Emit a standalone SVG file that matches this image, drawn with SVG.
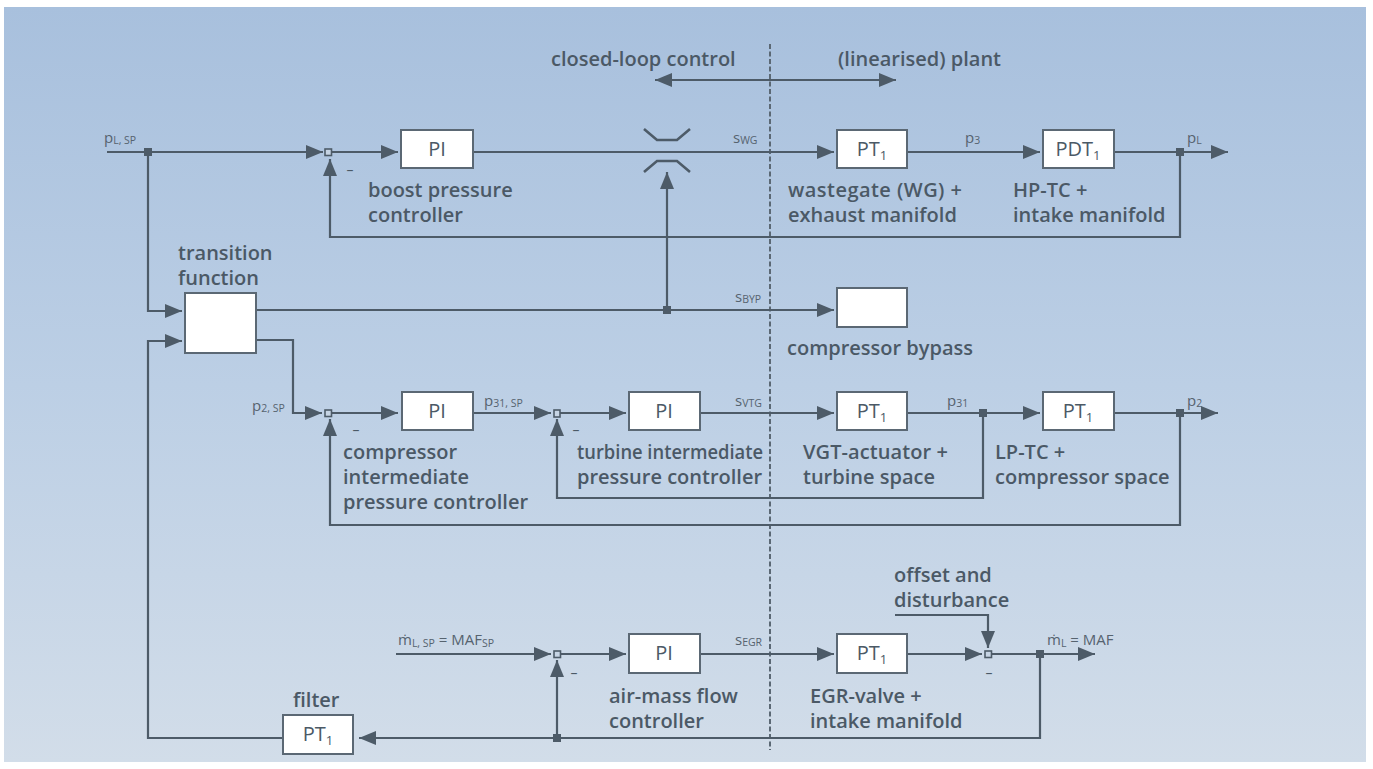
<svg xmlns="http://www.w3.org/2000/svg" width="1373" height="769" viewBox="0 0 1373 769">
<defs>
<linearGradient id="bg" x1="0" y1="0" x2="0" y2="1">
<stop offset="0" stop-color="#a8c0dd"/>
<stop offset="0.5" stop-color="#bccfe5"/>
<stop offset="1" stop-color="#d2dde9"/>
</linearGradient>
<marker id="arr" markerUnits="userSpaceOnUse" markerWidth="18" markerHeight="14" refX="17" refY="7" orient="auto-start-reverse" viewBox="0 0 18 14">
<path d="M0,0 L17,7 L0,14 z" fill="#4d5b68"/>
</marker>
<style>
.ln{fill:none;stroke:#4d5b68;stroke-width:2.2}
.ar{marker-end:url(#arr)}
.box{fill:#ffffff;stroke:#5b6874;stroke-width:2}
.lbl{font-family:"Open Sans","Liberation Sans",sans-serif;font-weight:600;font-size:20px;fill:#4b5966}
.bt{font-family:"Open Sans","Liberation Sans",sans-serif;font-weight:400;font-size:20px;fill:#4b5966;text-anchor:middle}
.sm{font-family:"Open Sans","Liberation Sans",sans-serif;font-weight:400;font-size:15px;fill:#56636f}
.sub{font-size:10.5px}
.sumn{fill:#c6d4e4;stroke:#4d5b68;stroke-width:1.6}
.jn{fill:#4d5b68}
.mn{font-family:"Open Sans","Liberation Sans",sans-serif;font-size:14px;fill:#4b5966;text-anchor:middle}
</style>
</defs>
<rect x="0" y="0" width="1373" height="769" fill="#ffffff"/>
<rect x="4" y="7" width="1362" height="755" fill="url(#bg)"/>

<g id="header">
<text class="lbl" x="551" y="66">closed-loop control</text>
<text class="lbl" x="838" y="66">(linearised) plant</text>
<path class="ln" d="M655,80 H896" marker-start="url(#arr)" marker-end="url(#arr)"/>
<path d="M770,44 V750" fill="none" stroke="#5b6874" stroke-width="2" stroke-dasharray="5 2.5"/>
</g>

<g id="connectors">
<path class="ln ar" d="M107,152 H323"/>
<path class="ln ar" d="M331,152 H398"/>
<path class="ln ar" d="M473,152 H834"/>
<path class="ln ar" d="M907,152 H1040"/>
<path class="ln ar" d="M1114,152 H1228"/>
<path class="ln ar" d="M1180,152 V237 H330 V159"/>
<path class="ln ar" d="M667,310 V172"/>
<path class="ln ar" d="M148,152 V311 H182"/>
<path class="ln ar" d="M283,738 H148 V341 H182"/>
<path class="ln ar" d="M256,310 H834"/>
<path class="ln ar" d="M256,340 H293 V413 H322"/>
<path class="ln ar" d="M331,413 H398"/>
<path class="ln ar" d="M473,413 H551"/>
<path class="ln ar" d="M560,413 H626"/>
<path class="ln ar" d="M700,413 H834"/>
<path class="ln ar" d="M907,413 H1040"/>
<path class="ln ar" d="M1114,413 H1218"/>
<path class="ln ar" d="M983,413 V498 H557 V419"/>
<path class="ln ar" d="M1180,413 V525 H330 V419"/>
<path class="ln ar" d="M396,654 H551"/>
<path class="ln ar" d="M560,654 H626"/>
<path class="ln ar" d="M700,654 H834"/>
<path class="ln ar" d="M907,654 H982"/>
<path class="ln ar" d="M895,615 H988 V648"/>
<path class="ln ar" d="M991,654 H1095"/>
<path class="ln ar" d="M1040,654 V738 H359"/>
<path class="ln ar" d="M557,738 V660"/>
</g>

<g id="switch">
<path d="M644,129 L657,140 L677,140 L690,129" fill="none" stroke="#4d5b68" stroke-width="2.6"/>
<path d="M644,172 L657,161 L677,161 L690,172" fill="none" stroke="#4d5b68" stroke-width="2.6"/>
</g>

<g id="nodes-points">
<rect class="sumn" x="325" y="149" width="6.5" height="6.5"/>
<rect class="sumn" x="325" y="410" width="6.5" height="6.5"/>
<rect class="sumn" x="554" y="410" width="6" height="7"/>
<rect class="sumn" x="554" y="651" width="6.5" height="6.5"/>
<rect class="sumn" x="985" y="651" width="6.5" height="6.5"/>
<rect class="jn" x="144" y="148" width="8" height="8"/>
<rect class="jn" x="1176" y="148" width="8" height="8"/>
<rect class="jn" x="663" y="306" width="8" height="8"/>
<rect class="jn" x="979" y="409" width="8" height="8"/>
<rect class="jn" x="1176" y="409" width="8" height="8"/>
<rect class="jn" x="1036" y="650" width="8" height="8"/>
<rect class="jn" x="553" y="734" width="8" height="8"/>
<text class="mn" x="350" y="175">–</text>
<text class="mn" x="356" y="435">–</text>
<text class="mn" x="576" y="435">–</text>
<text class="mn" x="574" y="678">–</text>
<text class="mn" x="989" y="678">–</text>
</g>

<g id="signals">
<text class="sm" x="104" y="143">p<tspan class="sub" dy="1">L, SP</tspan></text>
<text class="sm" x="733" y="143">s<tspan class="sub" dy="1">WG</tspan></text>
<text class="sm" x="965" y="143">p<tspan class="sub" dy="1">3</tspan></text>
<text class="sm" x="1187" y="143">p<tspan class="sub" dy="1">L</tspan></text>
<text class="sm" x="735" y="302">s<tspan class="sub" dy="1">BYP</tspan></text>
<text class="sm" x="252" y="411">p<tspan class="sub" dy="1">2, SP</tspan></text>
<text class="sm" x="484" y="406">p<tspan class="sub" dy="1">31, SP</tspan></text>
<text class="sm" x="735" y="406">s<tspan class="sub" dy="1">VTG</tspan></text>
<text class="sm" x="947" y="406">p<tspan class="sub" dy="1">31</tspan></text>
<text class="sm" x="1187" y="406">p<tspan class="sub" dy="1">2</tspan></text>
<text class="sm" x="398" y="645">ṁ<tspan class="sub" dy="2">L, SP</tspan><tspan dy="-2"> = MAF</tspan><tspan class="sub" dy="2">SP</tspan></text>
<text class="sm" x="735" y="645">s<tspan class="sub" dy="1">EGR</tspan></text>
<text class="sm" x="1047" y="645">ṁ<tspan class="sub" dy="2">L</tspan><tspan dy="-2"> = MAF</tspan></text>
</g>

<g id="boost-pi">
<rect class="box" x="401" y="130" width="72" height="38"/>
<text class="bt" x="437" y="156">PI</text>
<text class="lbl" x="368" y="197">boost pressure</text>
<text class="lbl" x="368" y="222">controller</text>
</g>
<g id="wastegate-pt1">
<rect class="box" x="837" y="130" width="70" height="38"/>
<text class="bt" x="872" y="156">PT<tspan font-size="13" dy="4">1</tspan></text>
<text class="lbl" x="788" y="197" textLength="174">wastegate (WG) +</text>
<text class="lbl" x="788" y="222">exhaust manifold</text>
</g>
<g id="hptc-pdt1">
<rect class="box" x="1043" y="130" width="71" height="38"/>
<text class="bt" x="1078" y="156">PDT<tspan font-size="13" dy="4">1</tspan></text>
<text class="lbl" x="1013" y="197">HP-TC +</text>
<text class="lbl" x="1013" y="222">intake manifold</text>
</g>
<g id="transition">
<rect class="box" x="185" y="293" width="71" height="60"/>
<text class="lbl" x="178" y="260">transition</text>
<text class="lbl" x="178" y="285">function</text>
</g>
<g id="bypass">
<rect class="box" x="837" y="288" width="70" height="39"/>
<text class="lbl" x="787" y="355">compressor bypass</text>
</g>
<g id="comp-pi">
<rect class="box" x="402" y="392" width="71" height="38"/>
<text class="bt" x="437" y="418">PI</text>
<text class="lbl" x="343" y="459">compressor</text>
<text class="lbl" x="343" y="484">intermediate</text>
<text class="lbl" x="343" y="509">pressure controller</text>
</g>
<g id="turb-pi">
<rect class="box" x="629" y="392" width="71" height="38"/>
<text class="bt" x="664" y="418">PI</text>
<text class="lbl" x="577" y="459" textLength="186" lengthAdjust="spacingAndGlyphs">turbine intermediate</text>
<text class="lbl" x="577" y="484">pressure controller</text>
</g>
<g id="vgt-pt1">
<rect class="box" x="837" y="392" width="70" height="38"/>
<text class="bt" x="872" y="418">PT<tspan font-size="13" dy="4">1</tspan></text>
<text class="lbl" x="803" y="459" textLength="145">VGT-actuator +</text>
<text class="lbl" x="803" y="484">turbine space</text>
</g>
<g id="lptc-pt1">
<rect class="box" x="1043" y="392" width="71" height="38"/>
<text class="bt" x="1078" y="418">PT<tspan font-size="13" dy="4">1</tspan></text>
<text class="lbl" x="995" y="459">LP-TC +</text>
<text class="lbl" x="995" y="484">compressor space</text>
</g>
<g id="maf-pi">
<rect class="box" x="629" y="634" width="71" height="39"/>
<text class="bt" x="664" y="660">PI</text>
<text class="lbl" x="609" y="703">air-mass flow</text>
<text class="lbl" x="609" y="728">controller</text>
</g>
<g id="egr-pt1">
<rect class="box" x="837" y="634" width="70" height="39"/>
<text class="bt" x="872" y="660">PT<tspan font-size="13" dy="4">1</tspan></text>
<text class="lbl" x="810" y="703">EGR-valve +</text>
<text class="lbl" x="810" y="728">intake manifold</text>
</g>
<g id="disturbance">
<text class="lbl" x="894" y="582">offset and</text>
<text class="lbl" x="894" y="607">disturbance</text>
</g>
<g id="filter">
<rect class="box" x="283" y="715" width="70" height="39"/>
<text class="bt" x="318" y="741">PT<tspan font-size="13" dy="4">1</tspan></text>
<text class="lbl" x="293" y="707">filter</text>
</g>
</svg>
